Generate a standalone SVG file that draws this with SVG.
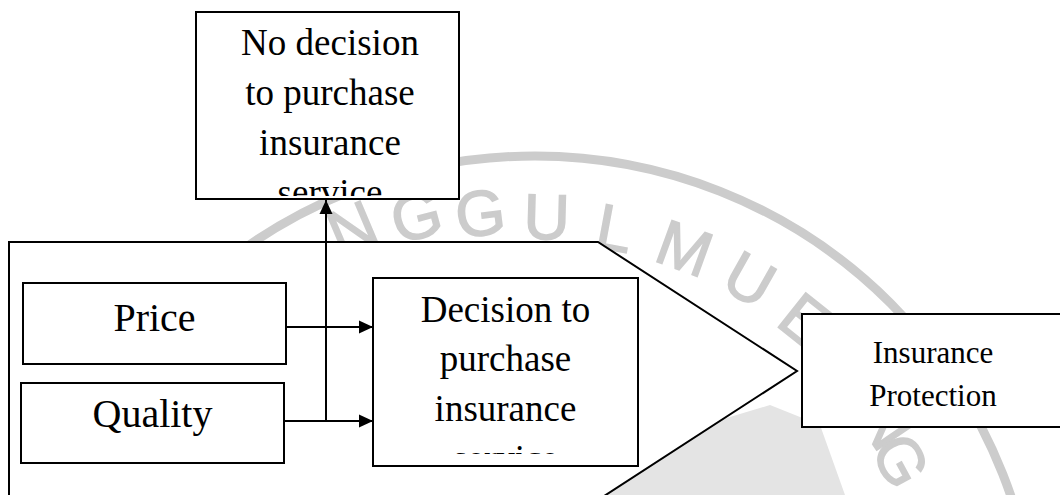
<svg xmlns="http://www.w3.org/2000/svg" width="1060" height="495" viewBox="0 0 1060 495">
  <style>
    .box { fill: #ffffff; stroke: #000000; stroke-width: 2; }
    .lbl { font-family: "Liberation Serif", "Times New Roman", serif; fill: #000000; text-anchor: middle; }
    .wm { font-family: "Liberation Sans", Arial, sans-serif; font-size: 64px; fill: #cccccc; stroke: #cccccc; stroke-width: 1.5; text-anchor: middle; }
    .conn { stroke: #000000; stroke-width: 2; fill: none; }
  </style>
  <defs>
    <marker id="arrow" viewBox="0 0 14 14" refX="14" refY="7" markerWidth="14" markerHeight="14" markerUnits="userSpaceOnUse" orient="auto">
      <path d="M0,0.5 L14,7 L0,13.5 Z" fill="#000000"/>
    </marker>
    <clipPath id="clipTop"><rect x="197" y="13" width="261" height="183"/></clipPath>
    <clipPath id="clipDec"><rect x="374" y="279" width="263" height="175"/></clipPath>
  </defs>
  <rect width="1060" height="495" fill="#ffffff"/>

  <!-- watermark -->
  <g id="watermark">
    <circle cx="535" cy="659" r="503" fill="none" stroke="#cccccc" stroke-width="9"/>
    <path d="M600,495 L660,455 L720,420 L770,405 L820,425 L845,495 Z" fill="#e4e4e4"/>
    <g class="wm">
      <text transform="translate(535,659) rotate(-113) translate(468,0) rotate(90)" dy="22">N</text>
      <text transform="translate(535,659) rotate(-105) translate(458,0) rotate(90)" dy="22">G</text>
      <text transform="translate(535,659) rotate(-97) translate(449,0) rotate(90)" dy="22">G</text>
      <text transform="translate(535,659) rotate(-88.5) translate(442,0) rotate(90)" dy="22">U</text>
      <text transform="translate(535,659) rotate(-79.5) translate(438,0) rotate(90)" dy="22">L</text>
      <text transform="translate(535,659) rotate(-70) translate(437,0) rotate(90)" dy="22">M</text>
      <text transform="translate(535,659) rotate(-60.5) translate(436,0) rotate(90)" dy="22">U</text>
      <text transform="translate(535,659) rotate(-51.5) translate(433,0) rotate(90)" dy="22">E</text>
      <text transform="translate(535,659) rotate(-34) translate(422,0) rotate(90)" dy="22">N</text>
      <text transform="translate(535,659) rotate(-28.5) translate(416,0) rotate(90)" dy="22">G</text>
    </g>
  </g>

  <!-- outer pentagon frame -->
  <g id="frame">
    <polygon class="box" points="9,242 598,242 797,371 598,500 9,500"/>
  </g>

  <!-- top node -->
  <g id="no-decision">
    <rect class="box" x="196" y="12" width="263" height="187"/>
    <g clip-path="url(#clipTop)">
      <text class="lbl" font-size="37" x="330" y="55">No decision</text>
      <text class="lbl" font-size="37" x="330" y="105">to purchase</text>
      <text class="lbl" font-size="37" x="330" y="155">insurance</text>
      <text class="lbl" font-size="37" x="330" y="205">service</text>
    </g>
  </g>

  <g id="price">
    <rect class="box" x="23" y="283" width="263" height="81"/>
    <text class="lbl" font-size="40" x="154.5" y="331">Price</text>
  </g>

  <g id="quality">
    <rect class="box" x="21" y="383" width="263" height="80"/>
    <text class="lbl" font-size="40" x="152.5" y="427">Quality</text>
  </g>

  <g id="decision">
    <rect class="box" x="373" y="278" width="265" height="188"/>
    <g clip-path="url(#clipDec)">
      <text class="lbl" font-size="37" x="505.5" y="322">Decision to</text>
      <text class="lbl" font-size="37" x="505.5" y="371">purchase</text>
      <text class="lbl" font-size="37" x="505.5" y="421">insurance</text>
      <text class="lbl" font-size="37" x="505.5" y="471">service</text>
    </g>
  </g>

  <g id="insurance-protection">
    <rect class="box" x="802" y="314" width="270" height="113"/>
    <text class="lbl" font-size="31" x="933" y="363">Insurance</text>
    <text class="lbl" font-size="31" x="933" y="406">Protection</text>
  </g>

  <!-- connectors -->
  <g id="connectors">
    <line class="conn" x1="286" y1="327" x2="373" y2="327" marker-end="url(#arrow)"/>
    <line class="conn" x1="284" y1="421" x2="373" y2="421" marker-end="url(#arrow)"/>
    <line class="conn" x1="326" y1="421" x2="326" y2="200" marker-end="url(#arrow)"/>
  </g>
</svg>
